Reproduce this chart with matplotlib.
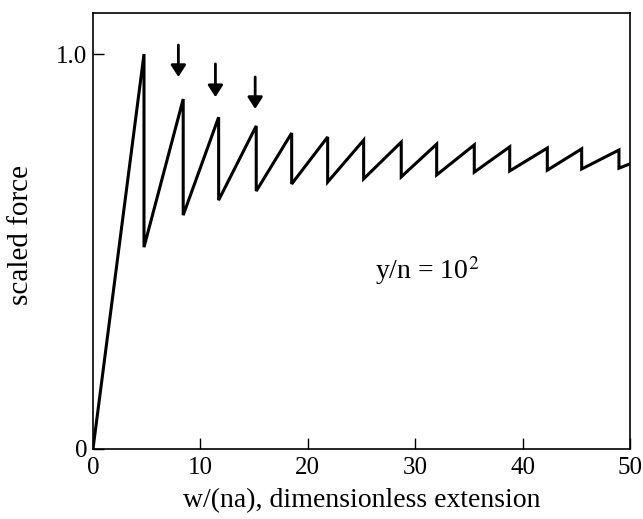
import numpy as np
import matplotlib
matplotlib.use('Agg')
import matplotlib.pyplot as plt

plt.rcParams['font.family'] = ['Liberation Serif', 'DejaVu Serif']
plt.rcParams['mathtext.fontset'] = 'stix'

# sawtooth force curve: peaks (just before each drop) and troughs (just after)
peak_w = [4.75, 8.4, 11.7, 15.2, 18.5, 21.85, 25.2, 28.7, 32.0, 35.5, 38.8, 42.3, 45.5, 48.97]
peak_f = [1.0, 0.886, 0.840, 0.818, 0.800, 0.790, 0.782, 0.777, 0.772, 0.770, 0.765, 0.762, 0.760, 0.757]
trough_f = [0.511, 0.592, 0.630, 0.653, 0.671, 0.676, 0.684, 0.689, 0.694, 0.701, 0.704, 0.706, 0.709, 0.711]
end_w, end_f = 50.0, 0.722

# arrows marking the first few rips
arrow_w = [7.95, 11.4, 15.1]
arrow_top = [1.023, 0.975, 0.942]
arrow_tip = [0.942, 0.891, 0.861]

xticks = [0, 10, 20, 30, 40, 50]
yticks = [0, 1.0]
yticklabels = ['0', '1.0']

# build the path
w = [0.0]
f = [0.0]
for pw, pf, tf in zip(peak_w, peak_f, trough_f):
    w += [pw, pw]
    f += [pf, tf]
w.append(end_w)
f.append(end_f)

fig = plt.figure(figsize=(6.43, 5.19), dpi=100)
ax = fig.add_axes([0.1446, 0.1349, 0.9798 - 0.1446, 0.975 - 0.1349])
ax.plot(w, f, color='black', lw=2.2, solid_joinstyle='miter')

for aw, at, ap in zip(arrow_w, arrow_top, arrow_tip):
    ax.annotate('', xy=(aw, ap), xytext=(aw, at),
                arrowprops=dict(arrowstyle='-|>,head_length=0.7,head_width=0.45',
                                color='black', lw=2.0, shrinkA=0, shrinkB=0))

ax.text(26.3, 0.453, r'y/n = 10$^2$', fontsize=20, va='center', ha='left')

ax.set_xlim(0, 50)
ax.set_ylim(0, 1.104)
ax.set_xticks(xticks)
ax.set_yticks(yticks)
ax.set_yticklabels(yticklabels)
ax.tick_params(direction='in', length=8, width=1.0, labelsize=18)
ax.tick_params(axis='x', pad=6)
ax.tick_params(axis='y', pad=4)
for s in ax.spines.values():
    s.set_linewidth(1.2)
ax.set_xlabel('w/(na), dimensionless extension', fontsize=20, labelpad=6)
ax.set_ylabel('scaled force', fontsize=21)
ax.yaxis.set_label_coords(-0.11, 0.49)

fig.savefig('out.png', dpi=100)
